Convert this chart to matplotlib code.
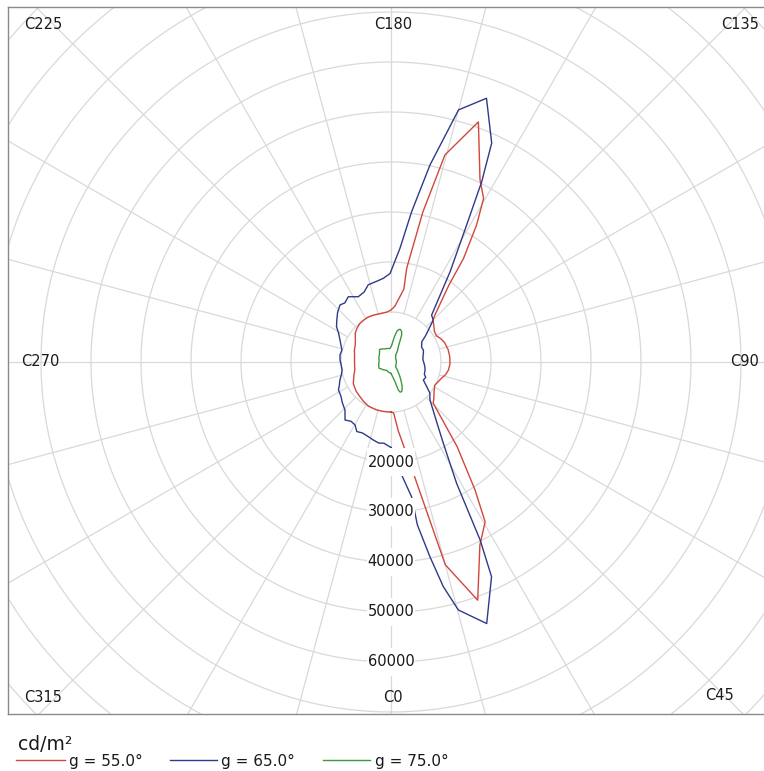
import matplotlib
matplotlib.use("Agg")
import matplotlib.pyplot as plt
import numpy as np
from matplotlib.lines import Line2D
from matplotlib.patches import Rectangle

# luminance curves: C-plane angle (deg) and value (cd/m2), in drawing order
red_c = [0, 3, 6, 11.3, 15, 20, 25.9, 30.5, 33.3, 38, 45.7, 50, 55, 62, 67, 72, 77, 82, 88,
         95, 102, 110, 115, 120, 125, 130, 135, 137, 143, 145, 148, 150.5, 154, 160, 165.4,
         168, 170.5, 170, 176, 180, 185, 191, 200, 207, 213, 219, 225, 231, 238, 245, 252,
         260, 270, 282, 290, 300, 310, 318, 325, 333, 343, 350, 356, 360]
red_r = [10000, 10200, 13800, 22500, 42000, 50700, 40700, 37100, 30600, 21500, 11800, 11200,
         10500, 9900, 10200, 10600, 11200, 11600, 11800, 11800, 11700, 11400, 11000, 10500,
         10600, 11200, 11900, 12900, 19200, 25300, 32300, 37600, 40600, 51100, 42800, 30700,
         19000, 14800, 11200, 10400, 10000, 9900, 10000, 10100, 10000, 9900, 9600, 9200, 8400,
         7900, 7700, 7400, 7300, 7400, 7900, 8700, 9100, 9300, 9600, 9900, 10000, 10000,
         10000, 10000]

blue_c = [0, 3, 5.4, 8.7, 9.2, 11.3, 13.1, 15.2, 20.1, 25.1, 26.6, 28.4, 32.8, 37.4, 45.7,
          48.3, 51.2, 55, 58, 61, 66, 70, 77, 83, 88, 94, 100, 105, 110, 116, 123.5, 126.7,
          128.8, 134.8, 139.1, 146.8, 151.1, 153.3, 155.3, 160.1, 165, 168.8, 172.2, 175.5,
          180.6, 185.3, 190, 196.4, 201, 206.6, 213.2, 218, 221.8, 227, 232.3, 237, 241,
          246.7, 251, 256.3, 262, 267.8, 273, 279.3, 285, 290, 294, 298, 304, 310, 316.2,
          321.6, 326, 330.3, 333.8, 338, 343.1, 347.2, 351.5, 355, 360]
blue_r = [17100, 20000, 22700, 27300, 33000, 39700, 46100, 51400, 55700, 47400, 39800, 27600,
          19300, 15000, 10900, 10400, 10000, 8800, 8000, 7400, 7600, 7100, 7000, 6800, 6600,
          6400, 6500, 6700, 6900, 6800, 7400, 8500, 9200, 11900, 12400, 21600, 31300, 40400,
          48200, 56100, 52200, 40200, 30300, 22800, 17700, 16800, 16400, 16100, 15000, 14600,
          15600, 15000, 15300, 14600, 13700, 13000, 12000, 11100, 10600, 10100, 10300, 10200,
          10000, 9900, 10300, 10900, 11300, 11900, 12100, 12700, 13300, 14800, 14300, 14500,
          15500, 15300, 15600, 16000, 16400, 16300, 17100]

green_c = [0, 6, 11.5, 14.6, 17, 19.8, 22, 24.6, 28, 31.5, 38, 45, 70, 100, 130, 146, 150,
           154.5, 158.4, 161, 164.6, 167, 169.3, 172, 174, 178, 184.2, 195, 205, 215, 222.5,
           230, 240, 250, 260.5, 270, 280, 290, 297.7, 305, 315, 323, 335, 348, 360]
green_r = [2300, 2900, 4000, 5800, 6300, 6300, 5900, 5400, 4300, 3400, 2100, 1300, 1100, 1100,
           1200, 1700, 2600, 3400, 5800, 6500, 6800, 6600, 6200, 5200, 4400, 3300, 2700, 2800,
           2900, 3200, 3400, 3000, 2700, 2600, 2400, 2400, 2500, 2600, 2700, 2400, 2200, 2000,
           1900, 2100, 2300]

series_labels = ["g = 55.0°", "g = 65.0°", "g = 75.0°"]
series_colors = ["#d2473b", "#2f3a8a", "#3c9a3c"]

ring_values = np.arange(10000, 130001, 10000)
ring_labels = [20000, 30000, 40000, 50000, 60000]
spoke_angles = np.arange(0, 360, 15)
plane_labels = ["C0", "C45", "C90", "C135", "C180", "C225", "C270", "C315"]
plane_pos = [(0.5093, 0.024), (0.9405, 0.0255), (0.9749, 0.4979), (0.9683, 0.9759),
             (0.5093, 0.9759), (0.0463, 0.9759), (0.0423, 0.4979), (0.0463, 0.024)]


def to_xy(c_deg, r):
    c = np.radians(np.asarray(c_deg, dtype=float))
    r = np.asarray(r, dtype=float)
    return r * np.sin(c), -r * np.cos(c)


fig = plt.figure(figsize=(7.64, 7.71), dpi=100)
ax = fig.add_axes([8 / 764, 57 / 771, 756 / 764, 707 / 771])
ax.set_xlim(-76600, 74600)
ax.set_ylim(-70400, 71000)
ax.set_xticks([])
ax.set_yticks([])
for name, sp in ax.spines.items():
    sp.set_color("#8a8a8a")
    sp.set_linewidth(1.0)
ax.spines["right"].set_visible(False)

grid_kw = dict(color="#d9d9d9", linewidth=0.9, zorder=1)
t = np.linspace(0, 360, 721)
for rv in ring_values:
    x, y = to_xy(t, np.full_like(t, rv))
    ax.plot(x, y, **grid_kw)
for a in spoke_angles:
    x, y = to_xy([a, a], [10000, 160000])
    ax.plot(x, y, **grid_kw)

for cs, rs, col in zip([red_c, blue_c, green_c], [red_r, blue_r, green_r], series_colors):
    x, y = to_xy(cs, rs)
    ax.plot(x, y, color=col, linewidth=1.0, zorder=3)

# value labels along C0 sit on tall, narrow white boxes
renderer = fig.canvas.get_renderer()
for rv in ring_labels:
    x, y = to_xy([0], [rv])
    txt = ax.text(x[0], y[0], str(rv), ha="center", va="center", fontsize=10.5,
                  color="#1a1a1a", zorder=5)
    bb = txt.get_window_extent(renderer).transformed(ax.transData.inverted())
    ax.add_patch(Rectangle((bb.x0 - 200, y[0] - 2800), bb.width + 400, 5600,
                           facecolor="white", edgecolor="none", zorder=4))

for lab, (px, py) in zip(plane_labels, plane_pos):
    ax.text(px, py, lab, transform=ax.transAxes, ha="center", va="center",
            fontsize=10.5, color="#1a1a1a", zorder=6)

# legend below the frame
fig.text(18 / 764, 1 - 744 / 771, "cd/m²", ha="left", va="center", fontsize=13.5, color="#1a1a1a")
leg_x = [(16, 65, 69), (170, 217, 221), (323, 370, 375)]
for (x0, x1, xt), lab, col in zip(leg_x, series_labels, series_colors):
    yl = 1 - 760 / 771
    fig.add_artist(Line2D([x0 / 764, x1 / 764], [yl, yl], color=col, linewidth=1.0))
    fig.text(xt / 764, 1 - 766 / 771, lab, ha="left", va="baseline", fontsize=11, color="#1a1a1a")

fig.savefig("out.png", dpi=100, facecolor="white")
